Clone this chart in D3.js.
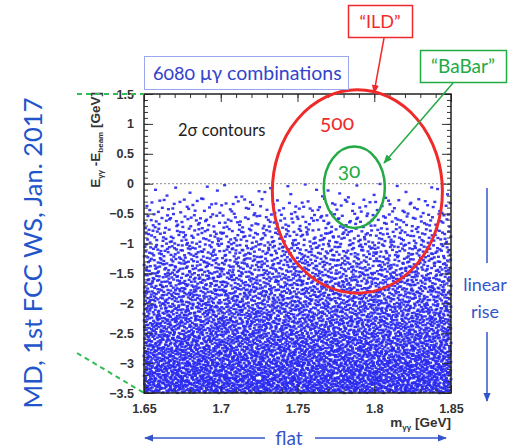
<!DOCTYPE html>
<html>
<head>
<meta charset="utf-8">
<script src="https://cdn.jsdelivr.net/npm/d3@7"></script>
<style>
  body { margin: 0; background: #fff; }
  svg { display: block; }
  .oldstyle { font-variant-numeric: oldstyle-nums; }
</style>
</head>
<body>
<div id="chart"></div>
<script>
// axis ranges
var xDomain = [1.65, 1.85],
    yDomain = [-3.5, 1.5];
var xTicks = [1.65, 1.7, 1.75, 1.8, 1.85],
    yTicks = [1.5, 1, 0.5, 0, -0.5, -1, -1.5, -2, -2.5, -3, -3.5];

// scatter: number of combinations in each 0.25 GeV slice of E
var bandTop = [0, -0.25, -0.5, -0.75, -1, -1.25, -1.5, -1.75, -2, -2.25, -2.5, -2.75, -3, -3.25];
var bandCount = [30, 95, 155, 215, 280, 340, 405, 465, 525, 590, 650, 715, 775, 840];
var bandHeight = 0.25;

// 2 sigma contours: [centre m, centre E, half width m, half height E]
var contours = [
    {name: "500", mass: 1.789, energy: -0.13, dm: 0.0554, dE: 1.70, color: "#f02a2a"},
    {name: "30", mass: 1.787, energy: -0.06, dm: 0.0199, dE: 0.68, color: "#22aa44"}
];

var width = 512, height = 448;
var margin = {top: 94, right: 61, bottom: 55, left: 144};
var plotW = width - margin.left - margin.right,
    plotH = height - margin.top - margin.bottom;

var svg = d3.select("#chart").append("svg")
    .attr("width", width)
    .attr("height", height);

var defs = svg.append("defs");
defs.append("filter").attr("id", "soft")
    .append("feGaussianBlur").attr("stdDeviation", 0.5);
function marker(id, color) {
    defs.append("marker")
        .attr("id", id)
        .attr("viewBox", "0 0 10 10")
        .attr("refX", 9).attr("refY", 5)
        .attr("markerWidth", 6).attr("markerHeight", 6)
        .attr("orient", "auto")
        .append("path")
        .attr("d", "M0,1 L10,5 L0,9 z")
        .attr("fill", color);
}
marker("arRed", "#f02a2a");
marker("arGreen", "#22aa44");
marker("arBlue", "#3355cc");

var x = d3.scaleLinear().domain(xDomain).range([0, plotW]);
var y = d3.scaleLinear().domain(yDomain).range([plotH, 0]);

var g = svg.append("g")
    .attr("transform", "translate(" + margin.left + "," + margin.top + ")");

// even placement inside each slice: leaped Halton sequence (deterministic)
function halton(i, b) {
    var f = 1, r = 0;
    while (i > 0) { f = f / b; r += f * (i % b); i = Math.floor(i / b); }
    return r;
}
var points = [];
var idx = 1;
bandTop.forEach(function (top, k) {
    for (var j = 0; j < bandCount[k]; j++) {
        var n = idx * 409;
        points.push({
            m: xDomain[0] + halton(n, 2) * (xDomain[1] - xDomain[0]),
            e: top - halton(n, 3) * bandHeight
        });
        idx++;
    }
});

g.append("g")
    .attr("filter", "url(#soft)")
    .selectAll("rect")
    .data(points)
    .enter().append("rect")
    .attr("x", function (d) { return x(d.m) - 1.5; })
    .attr("y", function (d) { return y(d.e) - 1.2; })
    .attr("width", 3)
    .attr("height", 2.4)
    .attr("fill", "#2626ee")
    .attr("opacity", 0.9);

// zero line
g.append("line")
    .attr("x1", 0).attr("x2", plotW)
    .attr("y1", y(0)).attr("y2", y(0))
    .attr("stroke", "#888")
    .attr("stroke-width", 1)
    .attr("stroke-dasharray", "2,2");

// axes, ticks inside the frame
function styleAxis(sel) {
    sel.select(".domain").remove();
    sel.selectAll(".tick line").attr("stroke", "#333").attr("stroke-width", 1);
    sel.selectAll("text")
        .style("font-family", "Liberation Sans, Arial, sans-serif")
        .style("font-weight", "bold")
        .style("font-size", "12.5px")
        .attr("fill", "#333");
}
var fmt = d3.format("~g");

g.append("g").call(d3.axisLeft(y).ticks(50).tickSize(-4).tickFormat("")).call(styleAxis);
g.append("g").call(d3.axisLeft(y).tickValues(yTicks).tickSize(-9).tickPadding(10).tickFormat(fmt)).call(styleAxis);
g.append("g").attr("transform", "translate(" + plotW + ",0)")
    .call(d3.axisRight(y).ticks(50).tickSize(-4).tickFormat("")).call(styleAxis);
g.append("g").attr("transform", "translate(" + plotW + ",0)")
    .call(d3.axisRight(y).tickValues(yTicks).tickSize(-9).tickFormat("")).call(styleAxis);

g.append("g").call(d3.axisTop(x).ticks(20).tickSize(-4).tickFormat("")).call(styleAxis);
g.append("g").call(d3.axisTop(x).tickValues(xTicks).tickSize(-8).tickFormat("")).call(styleAxis);
g.append("g").attr("transform", "translate(0," + plotH + ")")
    .call(d3.axisBottom(x).ticks(20).tickSize(-4).tickFormat("")).call(styleAxis);
g.append("g").attr("transform", "translate(0," + plotH + ")")
    .call(d3.axisBottom(x).tickValues(xTicks).tickSize(-8).tickPadding(11).tickFormat(fmt)).call(styleAxis);

g.append("rect")
    .attr("width", plotW).attr("height", plotH)
    .attr("fill", "none")
    .attr("stroke", "#222")
    .attr("stroke-width", 1.5);

// axis titles
var xt = svg.append("text")
    .attr("x", margin.left + plotW).attr("y", 427)
    .attr("text-anchor", "end")
    .style("font-family", "Liberation Sans, Arial, sans-serif")
    .style("font-weight", "bold").style("font-size", "13.5px")
    .attr("fill", "#333");
xt.append("tspan").text("m");
xt.append("tspan").attr("dy", 3).style("font-size", "8px").text("γγ");
xt.append("tspan").attr("dy", -3).text(" [GeV]");

var yt = svg.append("text")
    .attr("transform", "translate(100," + (margin.top - 2) + ") rotate(-90)")
    .attr("text-anchor", "end")
    .style("font-family", "Liberation Sans, Arial, sans-serif")
    .style("font-weight", "bold").style("font-size", "13.5px")
    .attr("fill", "#333");
yt.append("tspan").text("E");
yt.append("tspan").attr("dy", 3).style("font-size", "8px").text("γγ");
yt.append("tspan").attr("dy", -3).text(" -E");
yt.append("tspan").attr("dy", 3).style("font-size", "8px").text("beam");
yt.append("tspan").attr("dy", -3).text(" [GeV]");

// contours
g.selectAll(".contour")
    .data(contours)
    .enter().append("ellipse")
    .attr("class", "contour")
    .attr("cx", function (d) { return x(d.mass); })
    .attr("cy", function (d) { return y(d.energy); })
    .attr("rx", function (d) { return x(d.mass + d.dm) - x(d.mass); })
    .attr("ry", function (d) { return y(d.energy) - y(d.energy + d.dE); })
    .attr("fill", "none")
    .attr("stroke", function (d) { return d.color; })
    .attr("stroke-width", function (d, i) { return i === 0 ? 3 : 2.5; });

var annFont = "Lato, 'Open Sans', sans-serif";
function label(px, py, txt, color, size, anchor) {
    return svg.append("text")
        .attr("x", px).attr("y", py)
        .attr("text-anchor", anchor || "middle")
        .style("font-family", annFont)
        .style("font-size", size + "px")
        .attr("fill", color)
        .text(txt);
}
label(337, 130, contours[0].name, "#f02a2a", 21).attr("class", "oldstyle");
label(349, 178, contours[1].name, "#22aa44", 21).attr("class", "oldstyle");
label(178, 136, "2σ contours", "#222", 16.5, "start");

// boxes
svg.append("rect").attr("x", 144.5).attr("y", 56.5).attr("width", 204).attr("height", 33)
    .attr("fill", "#fff").attr("stroke", "#9aa6ee").attr("stroke-width", 1);
label(153, 80, "6080 μγ combinations", "#3344cc", 19.5, "start").attr("class", "oldstyle");

svg.append("rect").attr("x", 348.5).attr("y", 5.5).attr("width", 64).attr("height", 32)
    .attr("fill", "#fff").attr("stroke", "#f02a2a").attr("stroke-width", 1.5);
label(380, 28, "\u201CILD\u201D", "#f02a2a", 18);
svg.append("line").attr("x1", 384).attr("y1", 38).attr("x2", 374).attr("y2", 93)
    .attr("stroke", "#f02a2a").attr("stroke-width", 1.5).attr("marker-end", "url(#arRed)");

svg.append("rect").attr("x", 420.5).attr("y", 50.5).attr("width", 86).attr("height", 32)
    .attr("fill", "#fff").attr("stroke", "#22aa44").attr("stroke-width", 1.5);
label(463, 73, "\u201CBaBar\u201D", "#22aa44", 19);
svg.append("line").attr("x1", 453).attr("y1", 83).attr("x2", 384).attr("y2", 163)
    .attr("stroke", "#22aa44").attr("stroke-width", 1.5).attr("marker-end", "url(#arGreen)");

// green dashed guides to the axis corners
svg.append("line").attr("x1", 77).attr("y1", 94).attr("x2", 144).attr("y2", 94)
    .attr("stroke", "#33bb55").attr("stroke-width", 2).attr("stroke-dasharray", "5,4");
svg.append("line").attr("x1", 77).attr("y1", 353).attr("x2", 144).attr("y2", 393)
    .attr("stroke", "#33bb55").attr("stroke-width", 2).attr("stroke-dasharray", "5,4");

// side notes
svg.append("text")
    .attr("transform", "translate(42,253) rotate(-90)")
    .attr("text-anchor", "middle")
    .style("font-family", annFont)
    .style("font-size", "25.5px")
    .attr("fill", "#2255cc")
    .text("MD, 1st FCC WS, Jan. 2017");

label(485, 291, "linear", "#3355cc", 18);
label(485, 318, "rise", "#3355cc", 18);
svg.append("line").attr("x1", 487).attr("y1", 188).attr("x2", 487).attr("y2", 263)
    .attr("stroke", "#3355cc").attr("stroke-width", 1.5);
svg.append("line").attr("x1", 487).attr("y1", 332).attr("x2", 487).attr("y2", 401)
    .attr("stroke", "#3355cc").attr("stroke-width", 1.5).attr("marker-end", "url(#arBlue)");

label(289, 445, "flat", "#3355cc", 19);
svg.append("line").attr("x1", 265).attr("y1", 438).attr("x2", 145).attr("y2", 438)
    .attr("stroke", "#3355cc").attr("stroke-width", 1.5).attr("marker-end", "url(#arBlue)");
svg.append("line").attr("x1", 315).attr("y1", 438).attr("x2", 446).attr("y2", 438)
    .attr("stroke", "#3355cc").attr("stroke-width", 1.5).attr("marker-end", "url(#arBlue)");
</script>
</body>
</html>
